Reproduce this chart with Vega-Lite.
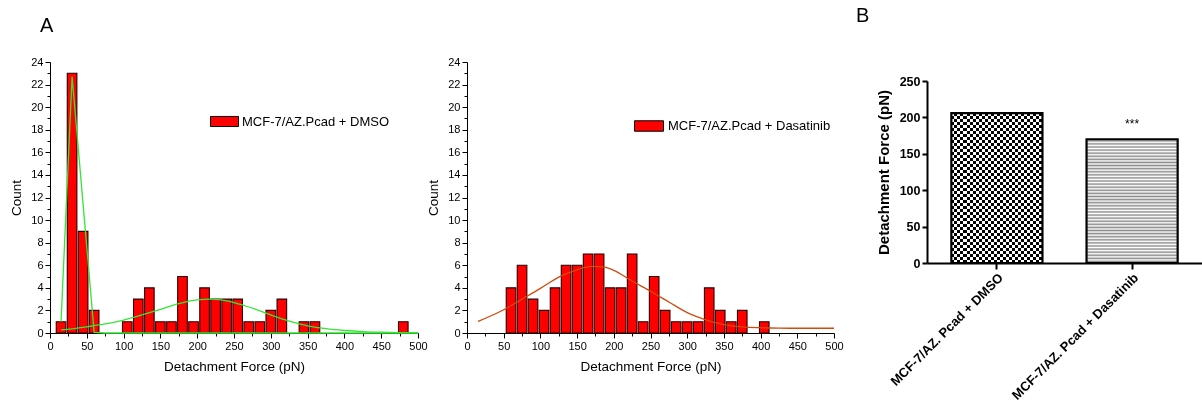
{
"$schema": "https://vega.github.io/schema/vega-lite/v6.json",
"padding": {"left": 9, "top": 6, "right": 0, "bottom": 0},
"background": "white",
"config": {
  "view": {"stroke": null},
  "font": "Liberation Sans",
  "axis": {"grid": false, "domainColor": "#000", "tickColor": "#000", "labelColor": "#000", "titleColor": "#000", "titleFontWeight": "normal", "labelFont": "Liberation Sans", "titleFont": "Liberation Sans", "domainWidth": 1, "tickWidth": 1},
  "title": {"font": "Liberation Sans", "color": "#000"}
},
"datasets": {
  "hist1": [
    {"force": 15, "count": 1, "series": "MCF-7/AZ.Pcad + DMSO"},
    {"force": 30, "count": 23, "series": "MCF-7/AZ.Pcad + DMSO"},
    {"force": 45, "count": 9, "series": "MCF-7/AZ.Pcad + DMSO"},
    {"force": 60, "count": 2, "series": "MCF-7/AZ.Pcad + DMSO"},
    {"force": 105, "count": 1, "series": "MCF-7/AZ.Pcad + DMSO"},
    {"force": 120, "count": 3, "series": "MCF-7/AZ.Pcad + DMSO"},
    {"force": 135, "count": 4, "series": "MCF-7/AZ.Pcad + DMSO"},
    {"force": 150, "count": 1, "series": "MCF-7/AZ.Pcad + DMSO"},
    {"force": 165, "count": 1, "series": "MCF-7/AZ.Pcad + DMSO"},
    {"force": 180, "count": 5, "series": "MCF-7/AZ.Pcad + DMSO"},
    {"force": 195, "count": 1, "series": "MCF-7/AZ.Pcad + DMSO"},
    {"force": 210, "count": 4, "series": "MCF-7/AZ.Pcad + DMSO"},
    {"force": 225, "count": 3, "series": "MCF-7/AZ.Pcad + DMSO"},
    {"force": 240, "count": 3, "series": "MCF-7/AZ.Pcad + DMSO"},
    {"force": 255, "count": 3, "series": "MCF-7/AZ.Pcad + DMSO"},
    {"force": 270, "count": 1, "series": "MCF-7/AZ.Pcad + DMSO"},
    {"force": 285, "count": 1, "series": "MCF-7/AZ.Pcad + DMSO"},
    {"force": 300, "count": 2, "series": "MCF-7/AZ.Pcad + DMSO"},
    {"force": 315, "count": 3, "series": "MCF-7/AZ.Pcad + DMSO"},
    {"force": 345, "count": 1, "series": "MCF-7/AZ.Pcad + DMSO"},
    {"force": 360, "count": 1, "series": "MCF-7/AZ.Pcad + DMSO"},
    {"force": 480, "count": 1, "series": "MCF-7/AZ.Pcad + DMSO"}
  ],
  "hist2": [
    {"force": 60, "count": 4, "series": "MCF-7/AZ.Pcad + Dasatinib"},
    {"force": 75, "count": 6, "series": "MCF-7/AZ.Pcad + Dasatinib"},
    {"force": 90, "count": 3, "series": "MCF-7/AZ.Pcad + Dasatinib"},
    {"force": 105, "count": 2, "series": "MCF-7/AZ.Pcad + Dasatinib"},
    {"force": 120, "count": 4, "series": "MCF-7/AZ.Pcad + Dasatinib"},
    {"force": 135, "count": 6, "series": "MCF-7/AZ.Pcad + Dasatinib"},
    {"force": 150, "count": 6, "series": "MCF-7/AZ.Pcad + Dasatinib"},
    {"force": 165, "count": 7, "series": "MCF-7/AZ.Pcad + Dasatinib"},
    {"force": 180, "count": 7, "series": "MCF-7/AZ.Pcad + Dasatinib"},
    {"force": 195, "count": 4, "series": "MCF-7/AZ.Pcad + Dasatinib"},
    {"force": 210, "count": 4, "series": "MCF-7/AZ.Pcad + Dasatinib"},
    {"force": 225, "count": 7, "series": "MCF-7/AZ.Pcad + Dasatinib"},
    {"force": 240, "count": 1, "series": "MCF-7/AZ.Pcad + Dasatinib"},
    {"force": 255, "count": 5, "series": "MCF-7/AZ.Pcad + Dasatinib"},
    {"force": 270, "count": 2, "series": "MCF-7/AZ.Pcad + Dasatinib"},
    {"force": 285, "count": 1, "series": "MCF-7/AZ.Pcad + Dasatinib"},
    {"force": 300, "count": 1, "series": "MCF-7/AZ.Pcad + Dasatinib"},
    {"force": 315, "count": 1, "series": "MCF-7/AZ.Pcad + Dasatinib"},
    {"force": 330, "count": 4, "series": "MCF-7/AZ.Pcad + Dasatinib"},
    {"force": 345, "count": 2, "series": "MCF-7/AZ.Pcad + Dasatinib"},
    {"force": 360, "count": 1, "series": "MCF-7/AZ.Pcad + Dasatinib"},
    {"force": 375, "count": 2, "series": "MCF-7/AZ.Pcad + Dasatinib"},
    {"force": 405, "count": 1, "series": "MCF-7/AZ.Pcad + Dasatinib"}
  ],
  "fit1a": [
    {"force": 15, "count": 1.0}, {"force": 30, "count": 22.7}, {"force": 60, "count": 0.05}, {"force": 75, "count": 0}, {"force": 500, "count": 0}
  ],
  "fit1b": [
    {"force": 15, "count": 0.27}, {"force": 30, "count": 0.37}, {"force": 50, "count": 0.55}, {"force": 75, "count": 0.8}, {"force": 100, "count": 1.15}, {"force": 125, "count": 1.6}, {"force": 150, "count": 2.1}, {"force": 175, "count": 2.6}, {"force": 200, "count": 2.93}, {"force": 215, "count": 3.0}, {"force": 230, "count": 2.95}, {"force": 250, "count": 2.7}, {"force": 275, "count": 2.2}, {"force": 300, "count": 1.6}, {"force": 325, "count": 1.05}, {"force": 350, "count": 0.64}, {"force": 375, "count": 0.38}, {"force": 400, "count": 0.22}, {"force": 425, "count": 0.12}, {"force": 450, "count": 0.07}, {"force": 475, "count": 0.04}, {"force": 500, "count": 0.02}
  ],
  "fit2": [
    {"force": 15, "count": 1.02}, {"force": 50, "count": 2.06}, {"force": 75, "count": 3.0}, {"force": 100, "count": 3.95}, {"force": 125, "count": 4.95}, {"force": 150, "count": 5.6}, {"force": 170, "count": 5.9}, {"force": 185, "count": 5.85}, {"force": 200, "count": 5.55}, {"force": 225, "count": 4.6}, {"force": 250, "count": 3.7}, {"force": 275, "count": 2.75}, {"force": 300, "count": 1.8}, {"force": 325, "count": 1.17}, {"force": 350, "count": 0.75}, {"force": 375, "count": 0.55}, {"force": 400, "count": 0.47}, {"force": 425, "count": 0.43}, {"force": 450, "count": 0.42}, {"force": 500, "count": 0.42}
  ],
  "bdata": [
    {"group": "MCF-7/AZ. Pcad + DMSO", "force": 206, "sig": ""},
    {"group": "MCF-7/AZ. Pcad + Dasatinib", "force": 170, "sig": "***"}
  ]
},
"spacing": 12,
"hconcat": [
  {
    "spacing": -2,
    "resolve": {"scale": {"color": "independent"}},
    "hconcat": [
      {
        "width": 368, "height": 271,
        "title": {"text": "A", "anchor": "start", "frame": "group", "dx": -10, "fontSize": 20, "fontWeight": "normal", "offset": 20},
        "encoding": {
          "x": {"field": "force", "type": "quantitative", "scale": {"domain": [0, 500], "nice": false, "padding": 0},
            "axis": {"title": "Detachment Force (pN)", "values": [0,25,50,75,100,125,150,175,200,225,250,275,300,325,350,375,400,425,450,475,500], "labelExpr": "datum.value % 50 === 0 ? datum.label : ''", "tickSize": {"condition": {"test": "datum.value % 50 === 0", "value": 5}, "value": 3}, "labelFontSize": 11, "labelPadding": 2, "titleFontSize": 13.5, "titlePadding": 8, "labelOverlap": false, "labelFlush": false}},
          "y": {"field": "count", "type": "quantitative", "scale": {"domain": [0, 24], "nice": false},
            "axis": {"title": "Count", "values": [0,1,2,3,4,5,6,7,8,9,10,11,12,13,14,15,16,17,18,19,20,21,22,23,24], "labelExpr": "datum.value % 2 === 0 ? datum.label : ''", "tickSize": {"condition": {"test": "datum.value % 2 === 0", "value": 5}, "value": 3}, "labelFontSize": 11, "labelPadding": 2, "titleFontSize": 13.5, "titlePadding": 7, "labelOverlap": false}}
        },
        "layer": [
          {
            "data": {"name": "hist1"},
            "mark": {"type": "bar", "width": 9.6, "stroke": "#2b0000", "strokeWidth": 1.1},
            "encoding": {
              "color": {"field": "series", "type": "nominal", "scale": {"range": ["#ff0000"]},
                "legend": {"title": null, "orient": "none", "legendX": 160, "legendY": 45, "symbolType": "M-1,-0.36H1V0.36H-1Z", "symbolSize": 784, "symbolStrokeColor": "#000", "symbolStrokeWidth": 1, "symbolFillColor": "#ff0000", "symbolOpacity": 1, "labelFontSize": 13, "labelColor": "#000", "labelOffset": 3, "labelLimit": 400, "padding": 0, "labelFont": "Liberation Sans"}}
            }
          },
          {
            "data": {"name": "fit1a"},
            "mark": {"type": "line", "color": "#33e633", "strokeWidth": 1.3}
          },
          {
            "data": {"name": "fit1b"},
            "mark": {"type": "line", "color": "#33e633", "strokeWidth": 1.3, "interpolate": "monotone"}
          }
        ]
      },
      {
        "width": 367, "height": 271,
        "encoding": {
          "x": {"field": "force", "type": "quantitative", "scale": {"domain": [0, 500], "nice": false, "padding": 0},
            "axis": {"title": "Detachment Force (pN)", "values": [0,25,50,75,100,125,150,175,200,225,250,275,300,325,350,375,400,425,450,475,500], "labelExpr": "datum.value % 50 === 0 ? datum.label : ''", "tickSize": {"condition": {"test": "datum.value % 50 === 0", "value": 5}, "value": 3}, "labelFontSize": 11, "labelPadding": 2, "titleFontSize": 13.5, "titlePadding": 8, "labelOverlap": false, "labelFlush": false}},
          "y": {"field": "count", "type": "quantitative", "scale": {"domain": [0, 24], "nice": false},
            "axis": {"title": "Count", "values": [0,1,2,3,4,5,6,7,8,9,10,11,12,13,14,15,16,17,18,19,20,21,22,23,24], "labelExpr": "datum.value % 2 === 0 ? datum.label : ''", "tickSize": {"condition": {"test": "datum.value % 2 === 0", "value": 5}, "value": 3}, "labelFontSize": 11, "labelPadding": 2, "titleFontSize": 13.5, "titlePadding": 7, "labelOverlap": false}}
        },
        "layer": [
          {
            "data": {"name": "hist2"},
            "mark": {"type": "bar", "width": 9.6, "stroke": "#2b0000", "strokeWidth": 1.1},
            "encoding": {
              "color": {"field": "series", "type": "nominal", "scale": {"range": ["#ff0000"]},
                "legend": {"title": null, "orient": "none", "legendX": 167, "legendY": 49, "symbolType": "M-1,-0.36H1V0.36H-1Z", "symbolSize": 841, "symbolStrokeColor": "#000", "symbolStrokeWidth": 1, "symbolFillColor": "#ff0000", "symbolOpacity": 1, "labelFontSize": 13, "labelColor": "#000", "labelOffset": 4, "labelLimit": 400, "padding": 0, "labelFont": "Liberation Sans"}}
            }
          },
          {
            "data": {"name": "fit2"},
            "mark": {"type": "line", "color": "#d04a0c", "strokeWidth": 1.3, "interpolate": "monotone"}
          }
        ]
      }
    ]
  },
  {
    "width": 275, "height": 201,
    "title": {"text": "B", "anchor": "start", "frame": "group", "dx": -71, "fontSize": 20, "fontWeight": "normal", "offset": 36},
    "data": {"name": "bdata"},
    "encoding": {
      "x": {"field": "group", "type": "nominal", "scale": {"domain": ["MCF-7/AZ. Pcad + DMSO", "MCF-7/AZ. Pcad + Dasatinib"], "paddingInner": 0.326, "paddingOuter": 0.18},
        "axis": {"title": null, "labelAngle": -45, "labelFontWeight": "bold", "labelFontSize": 13, "domainWidth": 2, "tickWidth": 2, "tickSize": 6, "labelPadding": 2, "labelLimit": 400}},
      "y": {"field": "force", "type": "quantitative", "scale": {"domain": [0, 250], "nice": false, "range": [201, 19]},
        "axis": {"title": "Detachment Force (pN)", "values": [0, 50, 100, 150, 200, 250], "labelFontWeight": "bold", "labelFontSize": 12.5, "titleFontWeight": "bold", "titleFontSize": 15, "domainWidth": 2, "tickWidth": 2, "tickSize": 5, "titlePadding": 8, "labelPadding": 2}}
    },
    "layer": [
      {
        "transform": [{"filter": "datum.sig === ''"}],
        "mark": {"type": "bar", "fill": {"gradient": "linear", "x1": 0, "y1": 0, "x2": 0, "y2": 1, "stops": [
          {"offset": 0, "color": "#000"}, {"offset": 0.02, "color": "#000"},
          {"offset": 0.02, "color": "#fff"}, {"offset": 0.04, "color": "#fff"},
          {"offset": 0.04, "color": "#000"}, {"offset": 0.06, "color": "#000"},
          {"offset": 0.06, "color": "#fff"}, {"offset": 0.08, "color": "#fff"},
          {"offset": 0.08, "color": "#000"}, {"offset": 0.1, "color": "#000"},
          {"offset": 0.1, "color": "#fff"}, {"offset": 0.12, "color": "#fff"},
          {"offset": 0.12, "color": "#000"}, {"offset": 0.14, "color": "#000"},
          {"offset": 0.14, "color": "#fff"}, {"offset": 0.16, "color": "#fff"},
          {"offset": 0.16, "color": "#000"}, {"offset": 0.18, "color": "#000"},
          {"offset": 0.18, "color": "#fff"}, {"offset": 0.2, "color": "#fff"},
          {"offset": 0.2, "color": "#000"}, {"offset": 0.22, "color": "#000"},
          {"offset": 0.22, "color": "#fff"}, {"offset": 0.24, "color": "#fff"},
          {"offset": 0.24, "color": "#000"}, {"offset": 0.26, "color": "#000"},
          {"offset": 0.26, "color": "#fff"}, {"offset": 0.28, "color": "#fff"},
          {"offset": 0.28, "color": "#000"}, {"offset": 0.3, "color": "#000"},
          {"offset": 0.3, "color": "#fff"}, {"offset": 0.32, "color": "#fff"},
          {"offset": 0.32, "color": "#000"}, {"offset": 0.34, "color": "#000"},
          {"offset": 0.34, "color": "#fff"}, {"offset": 0.36, "color": "#fff"},
          {"offset": 0.36, "color": "#000"}, {"offset": 0.38, "color": "#000"},
          {"offset": 0.38, "color": "#fff"}, {"offset": 0.4, "color": "#fff"},
          {"offset": 0.4, "color": "#000"}, {"offset": 0.42, "color": "#000"},
          {"offset": 0.42, "color": "#fff"}, {"offset": 0.44, "color": "#fff"},
          {"offset": 0.44, "color": "#000"}, {"offset": 0.46, "color": "#000"},
          {"offset": 0.46, "color": "#fff"}, {"offset": 0.48, "color": "#fff"},
          {"offset": 0.48, "color": "#000"}, {"offset": 0.5, "color": "#000"},
          {"offset": 0.5, "color": "#fff"}, {"offset": 0.52, "color": "#fff"},
          {"offset": 0.52, "color": "#000"}, {"offset": 0.54, "color": "#000"},
          {"offset": 0.54, "color": "#fff"}, {"offset": 0.56, "color": "#fff"},
          {"offset": 0.56, "color": "#000"}, {"offset": 0.58, "color": "#000"},
          {"offset": 0.58, "color": "#fff"}, {"offset": 0.6, "color": "#fff"},
          {"offset": 0.6, "color": "#000"}, {"offset": 0.62, "color": "#000"},
          {"offset": 0.62, "color": "#fff"}, {"offset": 0.64, "color": "#fff"},
          {"offset": 0.64, "color": "#000"}, {"offset": 0.66, "color": "#000"},
          {"offset": 0.66, "color": "#fff"}, {"offset": 0.68, "color": "#fff"},
          {"offset": 0.68, "color": "#000"}, {"offset": 0.7, "color": "#000"},
          {"offset": 0.7, "color": "#fff"}, {"offset": 0.72, "color": "#fff"},
          {"offset": 0.72, "color": "#000"}, {"offset": 0.74, "color": "#000"},
          {"offset": 0.74, "color": "#fff"}, {"offset": 0.76, "color": "#fff"},
          {"offset": 0.76, "color": "#000"}, {"offset": 0.78, "color": "#000"},
          {"offset": 0.78, "color": "#fff"}, {"offset": 0.8, "color": "#fff"},
          {"offset": 0.8, "color": "#000"}, {"offset": 0.82, "color": "#000"},
          {"offset": 0.82, "color": "#fff"}, {"offset": 0.84, "color": "#fff"},
          {"offset": 0.84, "color": "#000"}, {"offset": 0.86, "color": "#000"},
          {"offset": 0.86, "color": "#fff"}, {"offset": 0.88, "color": "#fff"},
          {"offset": 0.88, "color": "#000"}, {"offset": 0.9, "color": "#000"},
          {"offset": 0.9, "color": "#fff"}, {"offset": 0.92, "color": "#fff"},
          {"offset": 0.92, "color": "#000"}, {"offset": 0.94, "color": "#000"},
          {"offset": 0.94, "color": "#fff"}, {"offset": 0.96, "color": "#fff"},
          {"offset": 0.96, "color": "#000"}, {"offset": 0.98, "color": "#000"},
          {"offset": 0.98, "color": "#fff"}, {"offset": 1, "color": "#fff"}
        ]}}
      },
      {
        "transform": [{"filter": "datum.sig === ''"}],
        "mark": {"type": "bar", "blend": "difference", "fill": {"gradient": "linear", "x1": 0, "y1": 0, "x2": 1, "y2": 0, "stops": [
          {"offset": 0, "color": "#fff"}, {"offset": 0.0333, "color": "#fff"},
          {"offset": 0.0333, "color": "#000"}, {"offset": 0.0667, "color": "#000"},
          {"offset": 0.0667, "color": "#fff"}, {"offset": 0.1, "color": "#fff"},
          {"offset": 0.1, "color": "#000"}, {"offset": 0.1333, "color": "#000"},
          {"offset": 0.1333, "color": "#fff"}, {"offset": 0.1667, "color": "#fff"},
          {"offset": 0.1667, "color": "#000"}, {"offset": 0.2, "color": "#000"},
          {"offset": 0.2, "color": "#fff"}, {"offset": 0.2333, "color": "#fff"},
          {"offset": 0.2333, "color": "#000"}, {"offset": 0.2667, "color": "#000"},
          {"offset": 0.2667, "color": "#fff"}, {"offset": 0.3, "color": "#fff"},
          {"offset": 0.3, "color": "#000"}, {"offset": 0.3333, "color": "#000"},
          {"offset": 0.3333, "color": "#fff"}, {"offset": 0.3667, "color": "#fff"},
          {"offset": 0.3667, "color": "#000"}, {"offset": 0.4, "color": "#000"},
          {"offset": 0.4, "color": "#fff"}, {"offset": 0.4333, "color": "#fff"},
          {"offset": 0.4333, "color": "#000"}, {"offset": 0.4667, "color": "#000"},
          {"offset": 0.4667, "color": "#fff"}, {"offset": 0.5, "color": "#fff"},
          {"offset": 0.5, "color": "#000"}, {"offset": 0.5333, "color": "#000"},
          {"offset": 0.5333, "color": "#fff"}, {"offset": 0.5667, "color": "#fff"},
          {"offset": 0.5667, "color": "#000"}, {"offset": 0.6, "color": "#000"},
          {"offset": 0.6, "color": "#fff"}, {"offset": 0.6333, "color": "#fff"},
          {"offset": 0.6333, "color": "#000"}, {"offset": 0.6667, "color": "#000"},
          {"offset": 0.6667, "color": "#fff"}, {"offset": 0.7, "color": "#fff"},
          {"offset": 0.7, "color": "#000"}, {"offset": 0.7333, "color": "#000"},
          {"offset": 0.7333, "color": "#fff"}, {"offset": 0.7667, "color": "#fff"},
          {"offset": 0.7667, "color": "#000"}, {"offset": 0.8, "color": "#000"},
          {"offset": 0.8, "color": "#fff"}, {"offset": 0.8333, "color": "#fff"},
          {"offset": 0.8333, "color": "#000"}, {"offset": 0.8667, "color": "#000"},
          {"offset": 0.8667, "color": "#fff"}, {"offset": 0.9, "color": "#fff"},
          {"offset": 0.9, "color": "#000"}, {"offset": 0.9333, "color": "#000"},
          {"offset": 0.9333, "color": "#fff"}, {"offset": 0.9667, "color": "#fff"},
          {"offset": 0.9667, "color": "#000"}, {"offset": 1, "color": "#000"}
        ]}}
      },
      {
        "transform": [{"filter": "datum.sig !== ''"}],
        "mark": {"type": "bar", "fill": {"gradient": "linear", "x1": 0, "y1": 0, "x2": 0, "y2": 1, "stops": [
          {"offset": 0, "color": "#fff"}, {"offset": 0.0125, "color": "#8c8c8c"}, {"offset": 0.025, "color": "#fff"}, {"offset": 0.0375, "color": "#8c8c8c"},
          {"offset": 0.05, "color": "#fff"}, {"offset": 0.0625, "color": "#8c8c8c"}, {"offset": 0.075, "color": "#fff"}, {"offset": 0.0875, "color": "#8c8c8c"},
          {"offset": 0.1, "color": "#fff"}, {"offset": 0.1125, "color": "#8c8c8c"}, {"offset": 0.125, "color": "#fff"}, {"offset": 0.1375, "color": "#8c8c8c"},
          {"offset": 0.15, "color": "#fff"}, {"offset": 0.1625, "color": "#8c8c8c"}, {"offset": 0.175, "color": "#fff"}, {"offset": 0.1875, "color": "#8c8c8c"},
          {"offset": 0.2, "color": "#fff"}, {"offset": 0.2125, "color": "#8c8c8c"}, {"offset": 0.225, "color": "#fff"}, {"offset": 0.2375, "color": "#8c8c8c"},
          {"offset": 0.25, "color": "#fff"}, {"offset": 0.2625, "color": "#8c8c8c"}, {"offset": 0.275, "color": "#fff"}, {"offset": 0.2875, "color": "#8c8c8c"},
          {"offset": 0.3, "color": "#fff"}, {"offset": 0.3125, "color": "#8c8c8c"}, {"offset": 0.325, "color": "#fff"}, {"offset": 0.3375, "color": "#8c8c8c"},
          {"offset": 0.35, "color": "#fff"}, {"offset": 0.3625, "color": "#8c8c8c"}, {"offset": 0.375, "color": "#fff"}, {"offset": 0.3875, "color": "#8c8c8c"},
          {"offset": 0.4, "color": "#fff"}, {"offset": 0.4125, "color": "#8c8c8c"}, {"offset": 0.425, "color": "#fff"}, {"offset": 0.4375, "color": "#8c8c8c"},
          {"offset": 0.45, "color": "#fff"}, {"offset": 0.4625, "color": "#8c8c8c"}, {"offset": 0.475, "color": "#fff"}, {"offset": 0.4875, "color": "#8c8c8c"},
          {"offset": 0.5, "color": "#fff"}, {"offset": 0.5125, "color": "#8c8c8c"}, {"offset": 0.525, "color": "#fff"}, {"offset": 0.5375, "color": "#8c8c8c"},
          {"offset": 0.55, "color": "#fff"}, {"offset": 0.5625, "color": "#8c8c8c"}, {"offset": 0.575, "color": "#fff"}, {"offset": 0.5875, "color": "#8c8c8c"},
          {"offset": 0.6, "color": "#fff"}, {"offset": 0.6125, "color": "#8c8c8c"}, {"offset": 0.625, "color": "#fff"}, {"offset": 0.6375, "color": "#8c8c8c"},
          {"offset": 0.65, "color": "#fff"}, {"offset": 0.6625, "color": "#8c8c8c"}, {"offset": 0.675, "color": "#fff"}, {"offset": 0.6875, "color": "#8c8c8c"},
          {"offset": 0.7, "color": "#fff"}, {"offset": 0.7125, "color": "#8c8c8c"}, {"offset": 0.725, "color": "#fff"}, {"offset": 0.7375, "color": "#8c8c8c"},
          {"offset": 0.75, "color": "#fff"}, {"offset": 0.7625, "color": "#8c8c8c"}, {"offset": 0.775, "color": "#fff"}, {"offset": 0.7875, "color": "#8c8c8c"},
          {"offset": 0.8, "color": "#fff"}, {"offset": 0.8125, "color": "#8c8c8c"}, {"offset": 0.825, "color": "#fff"}, {"offset": 0.8375, "color": "#8c8c8c"},
          {"offset": 0.85, "color": "#fff"}, {"offset": 0.8625, "color": "#8c8c8c"}, {"offset": 0.875, "color": "#fff"}, {"offset": 0.8875, "color": "#8c8c8c"},
          {"offset": 0.9, "color": "#fff"}, {"offset": 0.9125, "color": "#8c8c8c"}, {"offset": 0.925, "color": "#fff"}, {"offset": 0.9375, "color": "#8c8c8c"},
          {"offset": 0.95, "color": "#fff"}, {"offset": 0.9625, "color": "#8c8c8c"}, {"offset": 0.975, "color": "#fff"}, {"offset": 0.9875, "color": "#8c8c8c"},
          {"offset": 1, "color": "#fff"}
        ]}}
      },
      {
        "mark": {"type": "bar", "filled": false, "color": "#000", "strokeWidth": 2.2}
      },
      {
        "mark": {"type": "text", "dy": -11, "baseline": "alphabetic", "fontSize": 12, "font": "Liberation Sans", "color": "#000"},
        "encoding": {"text": {"field": "sig"}}
      }
    ]
  }
]
}
